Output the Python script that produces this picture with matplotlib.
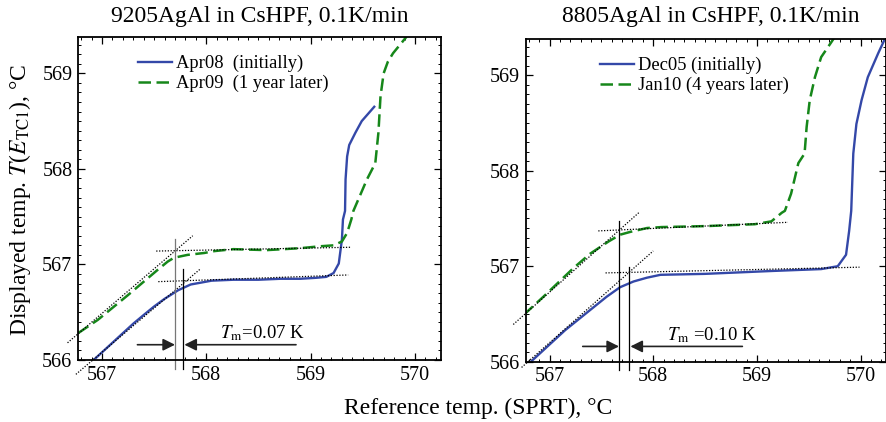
import matplotlib
matplotlib.use("Agg")
import matplotlib.pyplot as plt
from matplotlib.ticker import MultipleLocator

plt.rcParams['font.family'] = ['Liberation Serif', 'DejaVu Serif']
plt.rcParams['mathtext.fontset'] = 'stix'

# ---- data ----
# left panel: 9205AgAl
apr08_x = [566.93, 567.13, 567.30, 567.41, 567.50, 567.60, 567.73, 567.85, 568.05, 568.26,
           568.50, 568.71, 568.90, 569.05, 569.15, 569.22, 569.27, 569.30, 569.31, 569.33,
           569.335, 569.35, 569.37, 569.43, 569.49, 569.61]
apr08_y = [566.01, 566.21, 566.38, 566.48, 566.56, 566.64, 566.73, 566.79, 566.83, 566.84,
           566.84, 566.85, 566.85, 566.86, 566.87, 566.91, 567.01, 567.26, 567.47, 567.56,
           567.89, 568.13, 568.25, 568.38, 568.50, 568.65]
apr09_x = [566.77, 566.96, 567.25, 567.53, 567.63, 567.69, 567.82, 567.98, 568.08, 568.26,
           568.58, 568.90, 569.09, 569.22, 569.30, 569.35, 569.39, 569.41, 569.54,
           569.62, 569.65, 569.67, 569.70, 569.74, 569.79, 569.91, 569.94]
apr09_y = [566.28, 566.42, 566.68, 566.94, 567.03, 567.07, 567.10, 567.12, 567.14, 567.16,
           567.15, 567.17, 567.19, 567.20, 567.24, 567.33, 567.47, 567.56, 567.89,
           568.06, 568.38, 568.76, 569.00, 569.12, 569.21, 569.37, 569.42]

# right panel: 8805AgAl
dec05_x = [566.81, 567.15, 567.39, 567.55, 567.68, 567.81, 567.94, 568.07, 568.50, 569.14,
           569.62, 569.78, 569.86, 569.89, 569.91, 569.93, 569.96, 570.01, 570.07, 570.17,
           570.23, 570.28]
dec05_y = [565.99, 566.33, 566.54, 566.68, 566.78, 566.84, 566.88, 566.91, 566.92, 566.95,
           566.97, 567.00, 567.12, 567.37, 567.58, 568.18, 568.49, 568.74, 568.98, 569.23,
           569.37, 569.45]
jan10_x = [566.75, 566.94, 567.23, 567.39, 567.57, 567.68, 567.78, 567.94, 568.08, 568.50,
           568.98, 569.14, 569.24, 569.27, 569.33, 569.40, 569.46, 569.48, 569.51, 569.56,
           569.62, 569.72, 569.75]
jan10_y = [566.49, 566.68, 566.98, 567.13, 567.26, 567.33, 567.36, 567.40, 567.41, 567.42,
           567.44, 567.47, 567.56, 567.58, 567.76, 568.08, 568.18, 568.46, 568.74, 568.98,
           569.19, 569.35, 569.40]

# dotted tangent lines (x pair, y pair)
left_tangents = [([566.67, 567.87], [566.18, 567.30]),
                 ([567.52, 569.39], [567.14, 567.18]),
                 ([566.75, 567.94], [565.85, 566.95]),
                 ([567.54, 569.36], [566.82, 566.89])]
right_tangents = [([566.65, 567.86], [566.39, 567.56]),
                  ([567.47, 569.30], [567.37, 567.46]),
                  ([566.73, 568.00], [565.94, 567.16]),
                  ([567.54, 569.99], [566.93, 566.99])]

# vertical markers (x, y top, colour) and arrows (start x, end x)
left_vlines = [(567.70, 567.27, '#777777'), (567.78, 566.95, 'black')]
right_vlines = [(567.67, 567.47, 'black'), (567.77, 566.99, 'black')]
left_arrows = [(567.34, 567.70), (568.86, 567.79)]
right_arrows = [(567.32, 567.67), (568.86, 567.78)]

blue = '#3448a8'
green = '#16871a'


def draw_panel(ax, bx, by, blabel, gx, gy, glabel, tangents, vlines, arrows, tm_text, leg_x):
    ax.plot(bx, by, color=blue, lw=1.7, label=blabel)
    ax.plot(gx, gy, color=green, lw=1.8, ls=(0, (5.0, 2.2)), label=glabel)
    for tx, ty in tangents:
        ax.plot(tx, ty, color='black', lw=0.9, ls=(0, (1, 1.3)), clip_on=False)
    for vx, vtop, c in vlines:
        ax.plot([vx, vx], [565.91, vtop], color=c, lw=0.9, clip_on=False)
    for x0, x1 in arrows:
        ax.annotate('', xy=(x1, 566.16), xytext=(x0, 566.16),
                    arrowprops=dict(arrowstyle='-|>', color='#222222', lw=1.2,
                                    mutation_scale=18, shrinkA=0, shrinkB=0))
    ax.text(568.13, 566.28, tm_text, fontsize=13.5, ha='left', va='center')

    ax.set_xlim(566.77, 570.25)
    ax.set_ylim(566.0, 569.38)
    ax.xaxis.set_major_locator(MultipleLocator(1))
    ax.xaxis.set_minor_locator(MultipleLocator(0.1))
    ax.yaxis.set_major_locator(MultipleLocator(1))
    ax.yaxis.set_minor_locator(MultipleLocator(0.1))
    ax.tick_params(which='both', direction='in', top=True, right=True, labelsize=14.5, pad=4)
    ax.tick_params(which='major', length=5, width=0.9)
    ax.tick_params(which='minor', length=2.5, width=0.7)
    for s in ax.spines.values():
        s.set_linewidth(1.3)
    ax.legend(loc='upper left', bbox_to_anchor=(leg_x, 0.945), frameon=False, fontsize=13.3,
              borderpad=0, borderaxespad=0, handlelength=1.85, handletextpad=0.2, labelspacing=0.15)


fig = plt.figure(figsize=(8.87, 4.22), dpi=100)
ax1 = fig.add_axes([0.0879, 0.1469, 0.4093, 0.7654])
ax2 = fig.add_axes([0.5927, 0.1429, 0.4067, 0.7647])

draw_panel(ax1, apr08_x, apr08_y, 'Apr08  (initially)', apr09_x, apr09_y, 'Apr09  (1 year later)',
           left_tangents, left_vlines, left_arrows, r'$T_{\mathrm{m}}$=0.07 K', 0.165)
draw_panel(ax2, dec05_x, dec05_y, 'Dec05 (initially)', jan10_x, jan10_y, 'Jan10 (4 years later)',
           right_tangents, right_vlines, right_arrows, r'$T_{\mathrm{m}}$ =0.10 K', 0.206)

fig.text(0.2926, 0.962, '9205AgAl in CsHPF, 0.1K/min', fontsize=17, ha='center', va='center')
fig.text(0.8014, 0.962, '8805AgAl in CsHPF, 0.1K/min', fontsize=17, ha='center', va='center')
fig.text(0.539, 0.033, 'Reference temp. (SPRT), °C', fontsize=17, ha='center', va='center')
fig.text(0.022, 0.527, r'Displayed temp. $T$($E_{\mathrm{TC1}}$), °C', fontsize=17,
         ha='center', va='center', rotation=90)

fig.savefig('out.png', dpi=100)
